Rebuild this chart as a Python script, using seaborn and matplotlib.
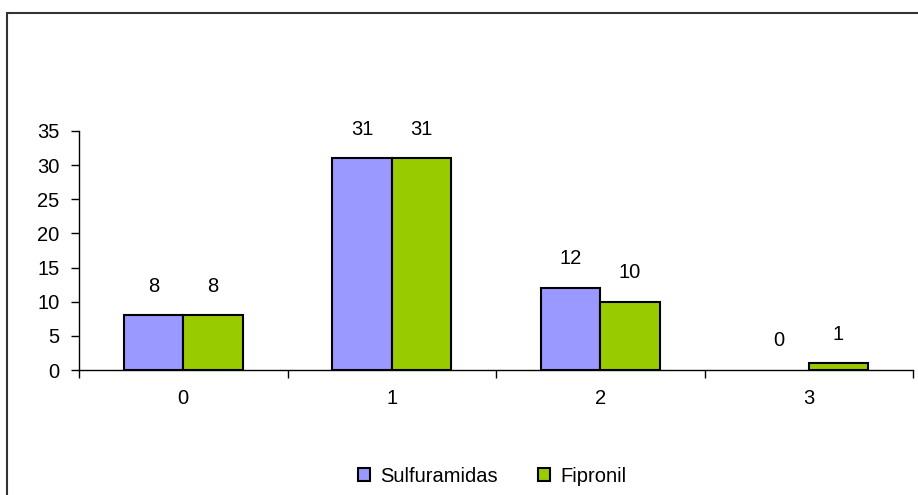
import matplotlib
matplotlib.use("Agg")
import matplotlib.pyplot as plt
import pandas as pd
import seaborn as sns
from matplotlib.patches import Rectangle

categories = ["0", "1", "2", "3"]
sulfuramidas = [8, 31, 12, 0]
fipronil = [8, 31, 10, 1]
series_names = ["Sulfuramidas", "Fipronil"]
colors = ["#9999FF", "#99CC00"]

df = pd.DataFrame({
    "cat": categories * 2,
    "value": sulfuramidas + fipronil,
    "serie": [series_names[0]] * 4 + [series_names[1]] * 4,
})

sns.set_style("white")
plt.rcParams["font.family"] = ["Liberation Sans", "DejaVu Sans"]
plt.rcParams["text.color"] = "black"
plt.rcParams["xtick.color"] = "black"
plt.rcParams["ytick.color"] = "black"

FS = 14.5

fig = plt.figure(figsize=(9.18, 4.95), dpi=100)
ax = fig.add_axes([79 / 918, 1 - 370 / 495, 834 / 918, 239 / 495])

sns.barplot(data=df, x="cat", y="value", hue="serie", palette=colors, saturation=1,
            width=0.57, edgecolor="black", linewidth=1.5, ax=ax)

# value labels above bars; zero bars get no outline
for container in ax.containers:
    for bar in container:
        h = bar.get_height()
        if h == 0:
            bar.set_linewidth(0)
        ax.annotate(f"{int(h)}", (bar.get_x() + bar.get_width() / 2, h),
                    xytext=(0, 21), textcoords="offset points",
                    ha="center", va="center", fontsize=FS)

ax.set_ylim(0, 35)
ax.set_xlim(-0.5, 3.5)
ax.set_yticks(range(0, 36, 5))
ax.set_xticks([-0.5, 0.5, 1.5, 2.5, 3.5], minor=False)
ax.set_xticklabels([])
ax.set_xticks(range(4), minor=True)
ax.set_xticklabels(categories, minor=True)
ax.tick_params(axis="x", which="minor", bottom=False, length=0, pad=14, labelsize=FS)
ax.tick_params(axis="x", which="major", bottom=True, length=6, width=1, direction="out")
ax.tick_params(axis="y", left=True, length=6, width=1, direction="out", labelsize=FS, pad=8)
ax.set_xlabel("")
ax.set_ylabel("")
for side in ["top", "right"]:
    ax.spines[side].set_visible(False)
for side in ["left", "bottom"]:
    ax.spines[side].set_color("black")
    ax.spines[side].set_linewidth(1)

ax.legend(loc="center", bbox_to_anchor=(0.536, 1 - 476 / 495), bbox_transform=fig.transFigure,
          ncol=2, frameon=False, fontsize=FS, handlelength=0.6, handleheight=0.6,
          columnspacing=2.0, handletextpad=0.5)
for h in ax.get_legend().legend_handles:
    h.set_edgecolor("black")
    h.set_linewidth(1.5)

# frame around the chart area
fig.patches.append(Rectangle((7 / 918, -0.05), 1.2, 1 - 13 / 495 + 0.05,
                             transform=fig.transFigure, fill=False,
                             edgecolor="#333333", linewidth=1.5))

fig.savefig("out.png", dpi=100)
plt.close(fig)
